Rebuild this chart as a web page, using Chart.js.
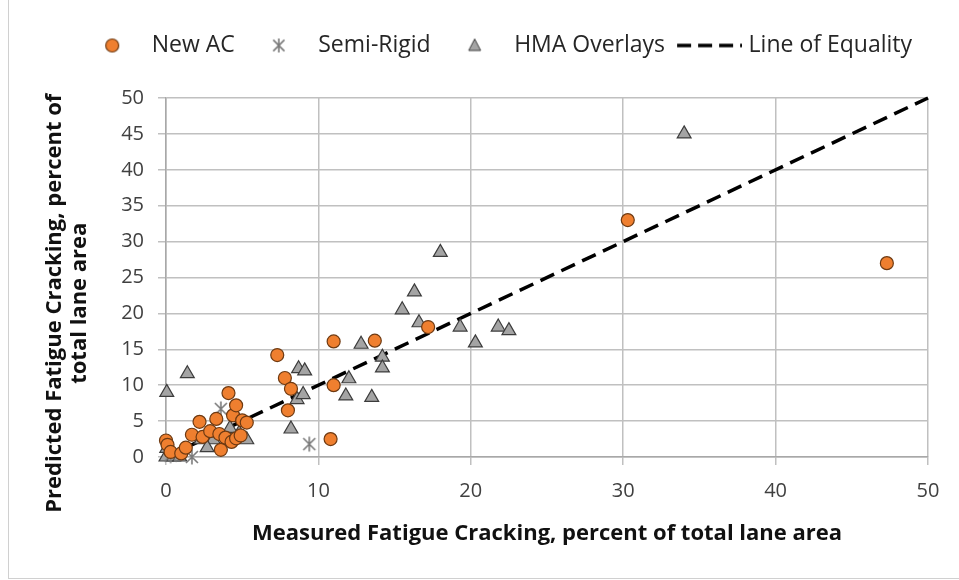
<!DOCTYPE html>
<html><head><meta charset="utf-8">
<script src="https://cdn.jsdelivr.net/npm/chart.js@4"></script>
<style>
html,body{margin:0;padding:0;background:#fff;}
#wrap{position:relative;width:959px;height:580px;overflow:hidden;}
#frame{position:absolute;left:8px;top:-2px;width:960px;height:581px;border-left:1.5px solid #d0d0d0;border-bottom:1.5px solid #d0d0d0;box-sizing:border-box;pointer-events:none;}
canvas{position:absolute;left:0;top:0;}
</style></head><body>
<div id="wrap"><canvas id="c" width="959" height="580"></canvas><div id="frame"></div></div>
<script>
// ---- data ----
const newAcX = [0.0,0.1,0.3,1.0,1.3,1.7,2.2,2.4,2.9,3.3,3.5,3.6,3.9,4.1,4.4,4.6,4.3,4.6,4.9,5.0,5.3,7.3,7.8,8.2,8.0,11.0,11.0,10.8,13.7,17.2,30.3,47.3];
const newAcY = [2.3,1.7,0.7,0.5,1.3,3.1,4.9,2.8,3.6,5.3,3.2,1.0,2.7,8.9,5.8,7.2,2.1,2.6,3.0,5.1,4.8,14.2,11.0,9.5,6.5,16.1,10.0,2.5,16.2,18.1,33.0,27.0];
const semiX = [9.4,3.6,1.7,4.1,0.3];
const semiY = [1.8,6.7,0.0,2.4,0.2];
const hmaX = [34.0,18.0,16.3,15.5,16.6,19.3,21.8,22.5,20.3,12.8,14.2,14.2,12.0,11.8,13.5,8.7,9.1,8.6,9.0,8.2,1.4,0.05,4.2,5.3,2.3,3.1,2.7,0.0,0.5,0.9,0.05,4.8];
const hmaY = [45.0,28.5,23.0,20.5,18.7,18.1,18.1,17.6,15.9,15.7,13.9,12.4,10.9,8.5,8.3,12.3,12.0,8.0,8.7,3.9,11.6,9.0,4.0,2.4,2.4,2.4,1.3,0.0,0.0,0.0,1.2,3.3];
const lineX = [0,50];
const lineY = [0,50];
const seriesNames = ['New AC','Semi-Rigid','HMA Overlays','Line of Equality'];
const xTitle = 'Measured Fatigue Cracking, percent of total lane area';
const yTitle = ['Predicted Fatigue Cracking, percent of', 'total lane area'];

// ---- styles ----
const FONT = "'Open Sans', sans-serif";
const ORANGE = '#EF7F2F', ORANGE_EDGE = '#6E3A12';
const GRAY = '#A4A4A4', GRAY_EDGE = '#3C3C3C';
const AST = '#7A7A7A';

function pts(xs, ys){ return xs.map((x,i)=>({x:x, y:ys[i]})); }
function mk(w,h,draw){ const c=document.createElement('canvas'); c.width=w; c.height=h; draw(c.getContext('2d')); return c; }
function drawAst(g,cx,cy,r){
  g.strokeStyle=AST; g.lineWidth=1.6; g.lineCap='butt';
  g.beginPath();
  g.moveTo(cx,cy-r); g.lineTo(cx,cy+r);
  const d=r*0.8;
  g.moveTo(cx-d,cy-d); g.lineTo(cx+d,cy+d);
  g.moveTo(cx+d,cy-d); g.lineTo(cx-d,cy+d);
  g.stroke();
}
const astPoint = mk(18,18,g=>drawAst(g,9,9,7.5));
const BW=56, IW=56, LH=20;
const legIcons = [
  mk(IW,LH,g=>{g.beginPath();g.arc(IW/2,LH/2,6.5,0,Math.PI*2);g.fillStyle=ORANGE;g.fill();g.lineWidth=1.2;g.strokeStyle=ORANGE_EDGE;g.stroke();}),
  mk(IW,LH,g=>drawAst(g,IW/2,LH/2,7)),
  mk(IW,LH,g=>{g.beginPath();g.moveTo(IW/2,LH/2-6.5);g.lineTo(IW/2+6,LH/2+5);g.lineTo(IW/2-6,LH/2+5);g.closePath();g.fillStyle=GRAY;g.fill();g.lineWidth=1;g.strokeStyle=GRAY_EDGE;g.stroke();}),
  mk(66,LH,g=>{g.beginPath();g.setLineDash([14,7]);g.moveTo(1,LH/2);g.lineTo(66,LH/2);g.lineWidth=3.5;g.strokeStyle='#000';g.stroke();})
];

const legendFix = { id:'legendFix', afterInit(chart){ const lg=chart.legend; const of=lg.fit.bind(lg); lg.fit=function(){ of(); this.height=80; }; } };

new Chart(document.getElementById('c'), {
  type:'scatter',
  data:{ datasets:[
    { label:seriesNames[0], data:pts(newAcX,newAcY), pointStyle:'circle', pointRadius:6.5, backgroundColor:ORANGE, borderColor:ORANGE_EDGE, borderWidth:1.2, clip:false },
    { label:seriesNames[1], data:pts(semiX,semiY), pointStyle:astPoint, pointRadius:8, clip:false },
    { label:seriesNames[2], data:pts(hmaX,hmaY), pointStyle:'triangle', pointRadius:8, backgroundColor:GRAY, borderColor:GRAY_EDGE, borderWidth:1.2, clip:false },
    { label:seriesNames[3], type:'line', data:pts(lineX,lineY), showLine:true, borderColor:'#000', borderWidth:3.5, borderDash:[15,8], pointRadius:0, fill:false, clip:false }
  ]},
  options:{
    responsive:false, animation:false, devicePixelRatio:1,
    layout:{ padding:{ top:18, left:0, right:31, bottom:0 } },
    plugins:{
      tooltip:{enabled:false},
      legend:{ position:'top', align:'end',
        labels:{ usePointStyle:true, pointStyleWidth:BW, boxHeight:LH, padding:16, color:'#262626', font:{family:FONT,size:23},
          generateLabels:()=>seriesNames.map((t,i)=>({text:t, pointStyle:legIcons[i], fontColor:'#262626', datasetIndex:i, hidden:false, lineWidth:0, strokeStyle:'rgba(0,0,0,0)', fillStyle:'rgba(0,0,0,0)'})) } }
    },
    scales:{
      x:{ type:'linear', min:0, max:50,
        afterFit:s=>{ s.height=123; },
        ticks:{ stepSize:10, padding:14, color:'#404040', font:{family:FONT,size:20} },
        grid:{ color:'#c0c0c0', lineWidth:1.5, tickLength:8, drawTicks:true },
        border:{ color:'#a8a8a8', width:1.5 },
        title:{ display:true, text:xTitle, color:'#111', font:{family:FONT,size:22,weight:'bold'}, padding:{top:0,bottom:33} } },
      y:{ type:'linear', min:0, max:50,
        afterFit:s=>{ s.width=166; },
        ticks:{ stepSize:5, padding:14, color:'#404040', font:{family:FONT,size:20} },
        grid:{ color:'#c0c0c0', lineWidth:1.5, tickLength:8, drawTicks:true },
        border:{ color:'#a8a8a8', width:1.5 },
        title:{ display:true, text:[yTitle[0]+'         ', yTitle[1]+'         '], color:'#111', font:{family:FONT,size:22,weight:'bold',lineHeight:1.14}, padding:{top:42,bottom:0} } }
    }
  },
  plugins:[legendFix]
});
</script>
</body></html>
